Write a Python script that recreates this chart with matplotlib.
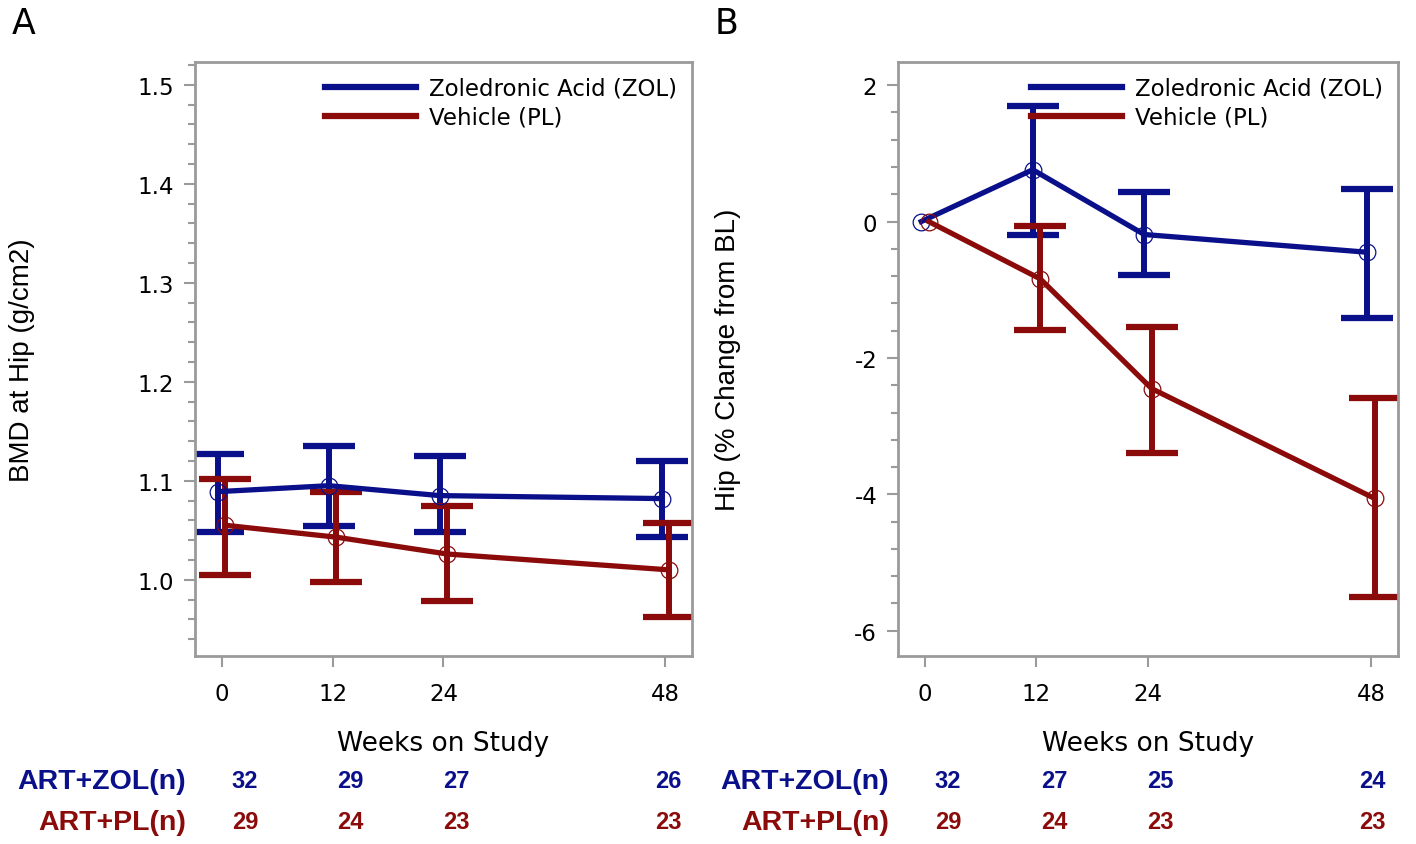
import matplotlib.pyplot as plt
from matplotlib.ticker import MultipleLocator

plt.rcParams['font.family'] = ['DejaVu Sans']

blue = "#0a0f8a"
red = "#8b0a0a"
frame_grey = "#9a9a9a"

weeks = [0, 12, 24, 48]
offset = 0.4

# panel A: BMD at hip (g/cm2)
bmd_zol = [1.089, 1.095, 1.085, 1.082]
bmd_zol_lo = [1.048, 1.054, 1.048, 1.043]
bmd_zol_hi = [1.127, 1.135, 1.125, 1.120]
bmd_pl = [1.055, 1.043, 1.026, 1.010]
bmd_pl_lo = [1.005, 0.998, 0.979, 0.962]
bmd_pl_hi = [1.102, 1.089, 1.074, 1.057]

# panel B: % change from baseline
pct_zol = [0.0, 0.76, -0.19, -0.45]
pct_zol_lo = [0.0, -0.19, -0.79, -1.41]
pct_zol_hi = [0.0, 1.69, 0.43, 0.48]
pct_pl = [0.0, -0.84, -2.45, -4.06]
pct_pl_lo = [0.0, -1.59, -3.40, -5.51]
pct_pl_hi = [0.0, -0.06, -1.54, -2.59]

n_zol_a = [32, 29, 27, 26]
n_pl_a = [29, 24, 23, 23]
n_zol_b = [32, 27, 25, 24]
n_pl_b = [29, 24, 23, 23]

fig = plt.figure(figsize=(14.16, 8.45), dpi=100)
ax_a = fig.add_axes([0.1377, 0.2225, 0.351, 0.703])
ax_b = fig.add_axes([0.6342, 0.2225, 0.353, 0.703])


def draw_series(ax, x, y, lo, hi, color, label):
    xs = [v + x for v in weeks]
    # skip bars with no spread (baseline of % change)
    keep = [i for i in range(len(y)) if hi[i] != lo[i]]
    ex = [xs[i] for i in keep]
    ey = [y[i] for i in keep]
    err = [[y[i] - lo[i] for i in keep], [hi[i] - y[i] for i in keep]]
    ax.errorbar(ex, ey, yerr=err, fmt='none', ecolor=color, elinewidth=4.3,
                capsize=19, capthick=4.5, zorder=2)
    ax.plot(xs, y, color=color, lw=3.8, marker='o', markersize=12,
            markerfacecolor='none', markeredgewidth=0.9, markeredgecolor=color,
            label=label, zorder=3)


def style_axes(ax):
    for s in ax.spines.values():
        s.set_color(frame_grey)
        s.set_linewidth(2)
    ax.tick_params(axis='both', which='major', color=frame_grey, width=1.5,
                   length=8, labelsize=16.5, pad=7)
    ax.tick_params(axis='x', which='major', pad=11)
    ax.tick_params(axis='y', which='minor', color=frame_grey, width=1.5, length=5)
    ax.set_xticks(weeks)
    ax.set_xlim(-2.9, 50.9)
    ax.set_xlabel("Weeks on Study", fontsize=19, labelpad=18)
    leg = ax.legend(loc='upper right', frameon=False, fontsize=16.5,
                    handlelength=4.0, handletextpad=0.55, labelspacing=0.25,
                    borderaxespad=0.25)
    for line in leg.get_lines():
        line.set_marker('')
        line.set_linewidth(4.5)


draw_series(ax_a, -offset, bmd_zol, bmd_zol_lo, bmd_zol_hi, blue, "Zoledronic Acid (ZOL)")
draw_series(ax_a, offset, bmd_pl, bmd_pl_lo, bmd_pl_hi, red, "Vehicle (PL)")
ax_a.set_ylim(0.923, 1.523)
ax_a.yaxis.set_major_locator(MultipleLocator(0.1))
ax_a.yaxis.set_minor_locator(MultipleLocator(0.02))
ax_a.yaxis.set_major_formatter(lambda v, p: f"{v:.1f}")
style_axes(ax_a)

draw_series(ax_b, -offset, pct_zol, pct_zol_lo, pct_zol_hi, blue, "Zoledronic Acid (ZOL)")
draw_series(ax_b, offset, pct_pl, pct_pl_lo, pct_pl_hi, red, "Vehicle (PL)")
ax_b.set_ylim(-6.37, 2.34)
ax_b.yaxis.set_major_locator(MultipleLocator(2))
ax_b.yaxis.set_minor_locator(MultipleLocator(0.4))
ax_b.yaxis.set_major_formatter(lambda v, p: f"{v:.0f}")
style_axes(ax_b)

# y labels placed in figure coordinates to match the original layout
fig.text(22 / 1416, 1 - 360 / 845, "BMD at Hip (g/cm2)", fontsize=20,
         family='Liberation Sans', rotation=90, ha='center', va='center')
fig.text(728 / 1416, 1 - 360 / 845, "Hip (% Change from BL)", fontsize=20,
         family='Liberation Sans', rotation=90, ha='center', va='center')

fig.text(0.017, 0.972, "A", fontsize=25, va='center', ha='center')
fig.text(0.513, 0.972, "B", fontsize=25, va='center', ha='center')

row_zol = 1 - 782 / 845
row_pl = 1 - 823 / 845


def at_risk(left, right, label_x, n_zol, n_pl):
    t = fig.add_axes([left, 0.0, right - left, 0.12])
    t.set_xlim(0, 48)
    t.set_ylim(0, 0.12)
    t.axis('off')
    for w, a, b in zip(weeks, n_zol, n_pl):
        t.text(w, row_zol, str(a), color=blue, fontsize=17, fontweight='bold',
               family='Liberation Sans', ha='center', va='center')
        t.text(w, row_pl, str(b), color=red, fontsize=17, fontweight='bold',
               family='Liberation Sans', ha='center', va='center')
    fig.text(label_x, row_zol, "ART+ZOL(n)", color=blue, fontsize=20.5,
             fontweight='bold', family='Liberation Sans', ha='right', va='center')
    fig.text(label_x, row_pl, "ART+PL(n)", color=red, fontsize=20.5,
             fontweight='bold', family='Liberation Sans', ha='right', va='center')


at_risk(245 / 1416, 668 / 1416, 186 / 1416, n_zol_a, n_pl_a)
at_risk(948 / 1416, 1372 / 1416, 889 / 1416, n_zol_b, n_pl_b)

fig.savefig("out.png", dpi=100)
